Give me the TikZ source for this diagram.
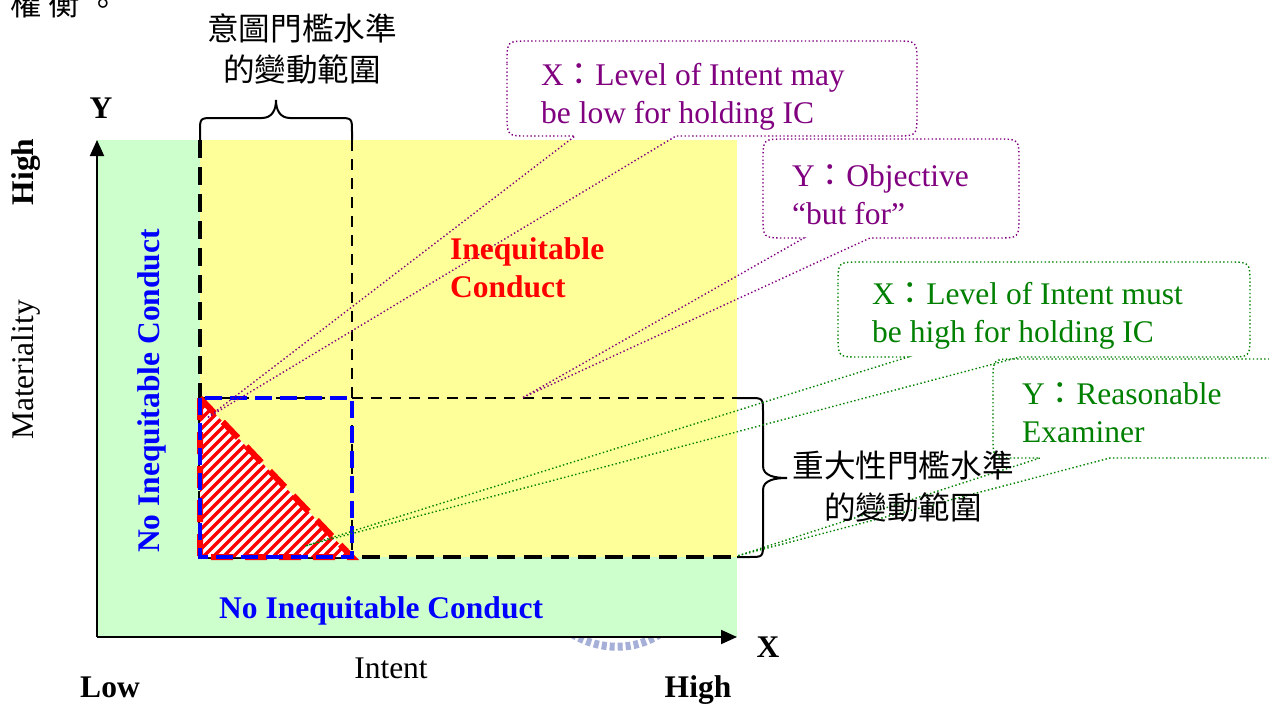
\documentclass[tikz,border=0pt]{standalone}
\usepackage{fontspec}
\setmainfont{Liberation Serif}
\newfontfamily\cjk{Noto Sans CJK TC}
\usetikzlibrary{arrows.meta}
\definecolor{calloutpurple}{RGB}{128,0,128}
\definecolor{calloutgreen}{RGB}{0,128,0}
\definecolor{lightgreen}{RGB}{204,255,204}
\definecolor{lightyellow}{RGB}{255,255,153}
\definecolor{wmark}{RGB}{165,175,215}
\newcommand\calloutshape[8]{%
  \draw[calloutline,#1] (#2,#3+22) .. controls (#2,#3) .. (#2+22,#3) -- (#4-22,#3)
    .. controls (#4,#3) .. (#4,#3+22) -- (#4,#5-22) .. controls (#4,#5) .. (#4-22,#5)
    -- (#7,#5) -- (#8) -- (#6,#5) -- (#2+22,#5) .. controls (#2,#5) .. (#2,#5-22) -- cycle;}
\begin{document}
\begin{tikzpicture}[x=1pt,y=-1pt,
  every node/.style={inner sep=0pt},
  lbl/.style={font=\fontsize{31.5}{38}\selectfont},
  blbl/.style={font=\fontsize{31.5}{38}\selectfont\bfseries},
  cjklbl/.style={font=\fontsize{31.6}{41.5}\selectfont\cjk, align=center},
  calloutline/.style={line width=1.4pt, dash pattern=on 1.4pt off 2.4pt},
  thickdash/.style={line width=4pt, dash pattern=on 18pt off 9pt},
  thindash/.style={line width=2.5pt, dash pattern=on 11pt off 8pt},
  bluedash/.style={draw=blue, line width=3.5pt, dash pattern=on 17pt off 8pt},
  reddash/.style={draw=red, line width=6pt, dash pattern=on 22pt off 12pt},
  hatchline/.style={draw=red, line width=3.5pt},
  axisline/.style={line width=2pt, -{Triangle[length=16pt,width=14pt]}},
  bracestyle/.style={line width=2pt},
]
\clip (0,0) rectangle (1269,704);
\fill[white] (0,0) rectangle (1269,704);

% faint watermark fragment
\draw[wmark, line width=8pt, dash pattern=on 5pt off 3pt] (572,634) .. controls (600,651) and (635,651) .. (660,634);

% regions
\fill[lightgreen] (97,140) rectangle (737,637);
\fill[lightyellow] (200,140) rectangle (737,557);

% threshold lines
\draw[thickdash] (200,140) -- (200,557);
\draw[thickdash] (200,557) -- (737,557);
\draw[thindash] (352,140) -- (352,557);
\draw[thindash] (200,398) -- (737,398);

% hatched triangle
\coordinate (tA) at (200,398);
\coordinate (tB) at (200,557);
\coordinate (tC) at (352,557);
\fill[white] (tA) -- (tB) -- (tC) -- cycle;
\begin{scope}
  \clip (tA) -- (tB) -- (tC) -- cycle;
  \foreach \i in {0,...,36} {
    \draw[hatchline] (30+10*\i,560) -- (200+10*\i,390);
  }
\end{scope}
\draw[reddash] (tA) -- (tB) -- (tC) -- cycle;
\draw[bluedash] (200,398) rectangle (352,557);

% axes
\coordinate (origin) at (97,637);
\coordinate (ytop) at (97,140);
\coordinate (xend) at (737,637);
\draw[axisline] (origin) -- (ytop);
\draw[axisline] (origin) -- (xend);

% braces
\draw[bracestyle] (200,140) -- (200,132) .. controls (200,118) .. (214,118) -- (262,118)
  .. controls (272,118) and (276,110) .. (276,100)
  .. controls (276,110) and (280,118) .. (290,118) -- (338,118)
  .. controls (352,118) .. (352,132) -- (352,140);
\draw[bracestyle] (737,398) -- (749,398) .. controls (763,398) .. (763,412) -- (763,466)
  .. controls (763,476) and (775,478) .. (787,478)
  .. controls (775,478) and (763,480) .. (763,490) -- (763,543)
  .. controls (763,557) .. (749,557) -- (737,557);

% callouts
\coordinate (tipPX) at (207,418);
\coordinate (tipPY) at (522,398);
\coordinate (tipGX) at (305,546);
\coordinate (tipGY) at (737,556);
\calloutshape{calloutpurple}{507}{41}{917}{136}{575}{676}{tipPX}
\calloutshape{calloutpurple}{763}{139}{1019}{238}{804}{870}{tipPY}
\calloutshape{calloutgreen}{838}{262}{1250}{357}{908}{1020}{tipGX}
\calloutshape{calloutgreen}{993}{359}{1300}{458}{1040}{1110}{tipGY}

% callout texts
\node[lbl, text=calloutpurple, align=left, anchor=north west] (pxtext) at (541,63)
  {X{\cjk ：}Level of Intent may\\be low for holding IC};
\node[lbl, text=calloutpurple, align=left, anchor=north west] (pytext) at (792,164)
  {Y{\cjk ：}Objective\\“but for”};
\node[lbl, text=calloutgreen, align=left, anchor=north west] (gxtext) at (872,282)
  {X{\cjk ：}Level of Intent must\\be high for holding IC};
\node[lbl, text=calloutgreen, align=left, anchor=north west] (gytext) at (1022,382)
  {Y{\cjk ：}Reasonable\\Examiner};

% other texts
\node[lbl, anchor=base west] (topcut) at (10,16) {\cjk 權\hspace{7pt}衡\hspace{7pt}。};
\node[cjklbl, anchor=north] (inttext) at (302,13) {意圖門檻水準\\的變動範圍};
\node[cjklbl, anchor=north] (mattext) at (903,451) {重大性門檻水準\\的變動範圍};
\node[blbl, text=red, align=left, anchor=north west] (ictext) at (450,237) {Inequitable\\Conduct};
\node[blbl, text=blue, anchor=base west] (nicbottom) at (219,618) {No Inequitable Conduct};
\node[blbl, text=blue, rotate=90] (nicleft) at (152,391) {No Inequitable Conduct};
\node[blbl, anchor=base] (ylabel) at (101,118) {Y};
\node[blbl, anchor=base] (xlabel) at (768,657) {X};
\node[blbl, rotate=90] (yhigh) at (26,172) {High};
\node[lbl, rotate=90] (ytitle) at (26,370) {Materiality};
\node[lbl, anchor=base] (xtitle) at (391,678) {Intent};
\node[blbl, anchor=base] (xlow) at (110,697) {Low};
\node[blbl, anchor=base] (xhigh) at (698,697) {High};
\end{tikzpicture}
\end{document}
